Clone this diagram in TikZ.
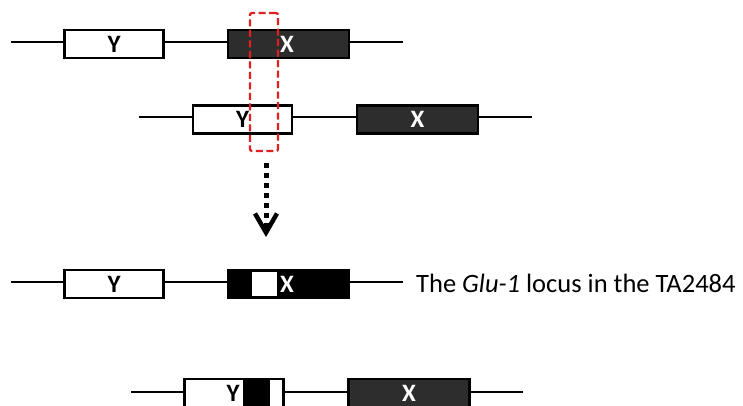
\documentclass[tikz,border=0pt]{standalone}
\usepackage{fontspec}
\setmainfont{Carlito}
\usetikzlibrary{arrows.meta}
\definecolor{darkbox}{HTML}{2D2D2D}
\definecolor{selred}{HTML}{E02020}
\tikzset{
  labfont/.style={font=\bfseries\fontsize{25}{25}\selectfont},
  chrom/.style={line width=2.3pt, black},
  genebox/.style={draw=black, line width=2.3pt, rectangle, inner sep=0pt, minimum height=28pt, labfont},
  ygene/.style={genebox, fill=white, text=black, minimum width=99pt},
  xgene/.style={genebox, fill=darkbox, text=white, minimum width=121pt},
  selbox/.style={draw=selred, line width=2.3pt, dash pattern=on 7pt off 3.5pt, rounded corners=2pt, rectangle, inner sep=0pt, minimum width=28pt, minimum height=138pt},
  dotarrow/.style={line width=5pt, dash pattern=on 5pt off 5pt, -{Straight Barb[length=19pt,width=22pt,line width=4.5pt]}},
  caption/.style={anchor=west, inner sep=0pt, font=\fontsize{26.5}{26.5}\selectfont}
}
\begin{document}
\begin{tikzpicture}[x=1pt,y=-1pt]
\useasboundingbox (0,0) rectangle (743,406);
% Row 1
\coordinate (r1s) at (11,42);
\coordinate (r1e) at (403,42);
\draw[chrom] (r1s) -- (r1e);
\node[ygene] (y1) at (114,44) {Y};
\node[xgene] (x1) at (288.5,44) {};
\node[text=white, labfont] (x1l) at (287,44) {X};
% Row 2
\coordinate (r2s) at (139,117);
\coordinate (r2e) at (532,117);
\draw[chrom] (r2s) -- (r2e);
\node[ygene] (y2) at (242.5,119.5) {Y};
\node[xgene] (x2) at (417.5,119.5) {X};
% selection box
\node[selbox] (sel) at (264,82) {};
% arrow
\coordinate (a1) at (266,163);
\coordinate (a2) at (266,237);
\draw[dotarrow] (a1) -- (a2);
% Row 3
\coordinate (r3s) at (11,282);
\coordinate (r3e) at (403,282);
\draw[chrom] (r3s) -- (r3e);
\node[ygene] (y3) at (114,284) {Y};
\node[xgene, fill=black] (x3) at (288.5,284) {};
\node[rectangle, fill=white, draw=black, line width=0.8pt, inner sep=0pt, minimum width=26pt, minimum height=25.5pt] (w3) at (264,284) {};
\node[text=white, labfont] (x3l) at (287,284) {X};
\node[caption] (cap) at (416,283) {The \textit{Glu-1} locus in the TA2484};
% Row 4
\coordinate (r4s) at (131,392);
\coordinate (r4e) at (523,392);
\draw[chrom] (r4s) -- (r4e);
\node[ygene] (y4) at (234,393) {};
\node[labfont] (y4l) at (233,393) {Y};
\node[rectangle, fill=black, inner sep=0pt, minimum width=27pt, minimum height=30pt, anchor=north] (b4) at (256.5,378) {};
\node[xgene] (x4) at (409,393) {X};
\end{tikzpicture}
\end{document}
